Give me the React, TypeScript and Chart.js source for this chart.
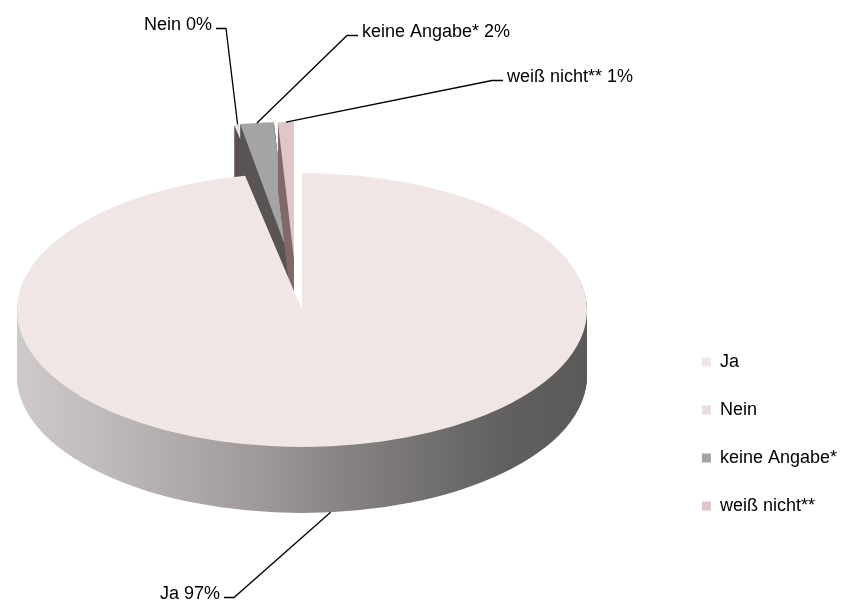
import { useEffect, useRef } from "react";
import { Chart, registerables } from "chart.js";

Chart.register(...registerables);

// ---------- data ----------
const categories: string[] = ["Ja", "Nein", "keine Angabe*", "weiß nicht**"];
const shares: number[] = [96.8, 0.4, 1.9, 0.9];

// ---------- styles ----------
const topColors: string[] = ["#f0e6e6", "#ecdddd", "#a4a4a4", "#dfc6c8"];
const sideColors: string[] = ["", "#5c5151", "#5a5555", "#806a6b"];
const sideGradientStops: [number, string][] = [
  [0, "#cfc9c9"],
  [0.15, "#c1baba"],
  [0.3, "#afa8a8"],
  [0.45, "#9c9696"],
  [0.58, "#878282"],
  [0.72, "#737070"],
  [0.86, "#625f5f"],
  [1, "#5c5959"],
];
// screen shift of exploded slices [dx, dy]
const explodeShift: [number, number][] = [
  [0, 0],
  [-11, -51],
  [-12, -51],
  [-8, -51],
];

const PIE = { cx: 302, cy: 310, rx: 285, ry: 137, depth: 66 };
const FONT = "'Liberation Sans', Arial, Helvetica, sans-serif";

const labelLayout: { x: number; y: number; align: CanvasTextAlign }[] = [
  { x: 220, y: 599, align: "right" },
  { x: 212, y: 30, align: "right" },
  { x: 362, y: 37, align: "left" },
  { x: 507, y: 82, align: "left" },
];

function geom(chart: any) {
  const arcs = chart.getDatasetMeta(0).data as any[];
  const a0 = arcs[0];
  const cx0 = a0.x;
  const cy0 = a0.y;
  const R0 = a0.outerRadius;
  return { arcs, cx0, cy0, R0, sx: PIE.rx / R0, sy: PIE.ry / R0 };
}

const isExploded = (i: number) => explodeShift[i][0] !== 0 || explodeShift[i][1] !== 0;

const pie3d = {
  id: "pie3d",
  beforeDatasetsDraw(chart: any) {
    const ctx: CanvasRenderingContext2D = chart.ctx;
    const g = geom(chart);
    if (!g.arcs.length) return false;
    const plane = (dx: number, dy: number) => {
      ctx.translate(PIE.cx + dx, PIE.cy + dy);
      ctx.scale(g.sx, g.sy);
      ctx.translate(-g.cx0, -g.cy0);
    };
    const wedge = (el: any) => {
      ctx.beginPath();
      ctx.moveTo(el.x, el.y);
      ctx.arc(el.x, el.y, el.outerRadius, el.startAngle, el.endAngle);
      ctx.closePath();
    };
    const grad = ctx.createLinearGradient(g.cx0 - g.R0, 0, g.cx0 + g.R0, 0);
    sideGradientStops.forEach(([o, c]) => grad.addColorStop(o, c));

    const idx = g.arcs.map((_: any, i: number) => i);
    const order = [...idx.filter((i: number) => isExploded(i)), ...idx.filter((i: number) => !isExploded(i))];
    for (const i of order) {
      const el = g.arcs[i];
      const [dx, dy] = explodeShift[i];
      for (let d = PIE.depth; d >= 1; d--) {
        ctx.save();
        plane(dx, dy + d);
        ctx.fillStyle = sideColors[i] ? sideColors[i] : grad;
        wedge(el);
        ctx.fill();
        ctx.restore();
      }
      ctx.save();
      plane(dx, dy);
      el.draw(ctx);
      ctx.restore();
    }
    return false;
  },
  afterDraw(chart: any) {
    const ctx: CanvasRenderingContext2D = chart.ctx;
    const g = geom(chart);
    ctx.save();
    ctx.font = `18px ${FONT}`;
    ctx.fillStyle = "#000";
    ctx.strokeStyle = "#000";
    ctx.lineWidth = 1.3;
    g.arcs.forEach((el: any, i: number) => {
      const mid = (el.startAngle + el.endAngle) / 2;
      const [dx, dy] = explodeShift[i];
      const px = el.x + Math.cos(mid) * el.outerRadius;
      const py = el.y + Math.sin(mid) * el.outerRadius;
      const ax = PIE.cx + dx + (px - g.cx0) * g.sx;
      let ay = PIE.cy + dy + (py - g.cy0) * g.sy;
      if (Math.sin(mid) > 0.2) ay += PIE.depth;
      const L = labelLayout[i];
      const text = `${categories[i]} ${Math.round(shares[i])}%`;
      ctx.textAlign = L.align;
      ctx.textBaseline = "alphabetic";
      ctx.fillText(text, L.x, L.y);
      const ly = L.y - 1.5;
      const s0 = L.align === "right" ? L.x + 4 : L.x - 4;
      const s1 = L.align === "right" ? L.x + 14 : L.x - 15;
      ctx.beginPath();
      ctx.moveTo(s0, ly);
      ctx.lineTo(s1, ly);
      ctx.lineTo(ax, ay);
      ctx.stroke();
    });
    ctx.restore();
  },
};

export default function App() {
  const ref = useRef<HTMLCanvasElement | null>(null);
  useEffect(() => {
    if (!ref.current) return;
    Chart.defaults.font.family = FONT;
    const chart = new Chart(ref.current, {
      type: "pie",
      data: {
        labels: categories,
        datasets: [
          {
            data: shares,
            backgroundColor: topColors,
            borderWidth: 0,
          },
        ],
      },
      plugins: [pie3d as any],
      options: {
        animation: false,
        responsive: true,
        maintainAspectRatio: false,
        events: [],
        layout: { padding: { bottom: 58 } },
        plugins: {
          tooltip: { enabled: false },
          legend: {
            position: "right",
            align: "end",
            labels: {
              boxWidth: 9,
              boxHeight: 9,
              padding: 30,
              color: "#000",
              font: { size: 18, family: FONT },
            },
          },
        },
      },
    });
    return () => chart.destroy();
  }, []);
  return (
    <div style={{ position: "absolute", left: 0, top: 0, width: 847, height: 603, background: "#fff" }}>
      <canvas ref={ref} />
    </div>
  );
}
